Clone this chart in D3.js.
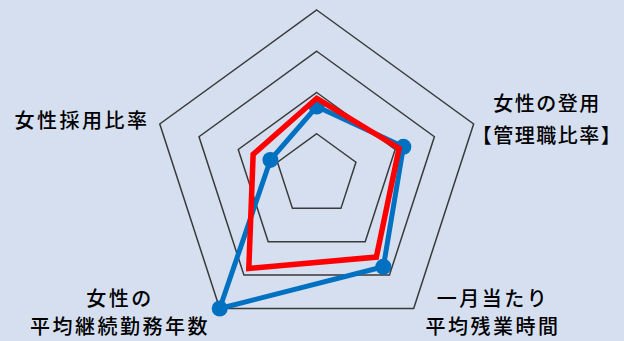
<!DOCTYPE html>
<html>
<head>
<meta charset="utf-8">
<script src="https://cdn.jsdelivr.net/npm/d3@7"></script>
<style>
  html, body { margin: 0; padding: 0; background: #d5dff0; }
  svg { display: block; }
  .label { font-family: "Noto Sans CJK JP", sans-serif; font-size: 20px; letter-spacing: 2.5px; font-weight: 500; fill: #000; }
  .label.tight { letter-spacing: 1.5px; }
</style>
</head>
<body>
<svg id="chart" width="624" height="341"></svg>
<script>
// axes, clockwise from the top
var categories = [
  [],
  ['女性の登用', '【管理職比率】'],
  ['一月当たり', '平均残業時間'],
  ['女性の', '平均継続勤務年数'],
  ['女性採用比率']
];
var levels = [1, 2, 3, 4];
var blueValues = [1.66, 2.21, 2.75, 4.0, 1.18];
var redValues = [1.86, 2.10, 2.46, 2.80, 1.62];

var W = 624, H = 341;
var cx = 316.7, cy = 175;

var svg = d3.select('#chart');
svg.append('rect').attr('width', W).attr('height', H).attr('fill', '#d5dff0');

var r = d3.scaleLinear().domain([0, 4]).range([0, 165]);
var angle = d3.scaleLinear().domain([0, categories.length]).range([0, 2 * Math.PI]);

var radial = d3.lineRadial()
  .angle(function(d, i) { return angle(i); })
  .radius(function(d) { return r(d); })
  .curve(d3.curveLinearClosed);

var g = svg.append('g').attr('transform', 'translate(' + cx + ',' + cy + ')');

// pentagon grid
g.selectAll('path.grid')
  .data(levels)
  .enter().append('path')
  .attr('class', 'grid')
  .attr('d', function(l) { return radial(categories.map(function() { return l; })); })
  .attr('fill', 'none')
  .attr('stroke', '#3a3a3a')
  .attr('stroke-width', 1.5);

// blue series with markers
g.append('path')
  .attr('d', radial(blueValues))
  .attr('fill', 'none')
  .attr('stroke', '#0070c0')
  .attr('stroke-width', 5)
  .attr('stroke-linejoin', 'round');

g.selectAll('circle.dot')
  .data(blueValues)
  .enter().append('circle')
  .attr('class', 'dot')
  .attr('cx', function(d, i) { return r(d) * Math.sin(angle(i)); })
  .attr('cy', function(d, i) { return -r(d) * Math.cos(angle(i)); })
  .attr('r', 8)
  .attr('fill', '#0070c0');

// red series
g.append('path')
  .attr('d', radial(redValues))
  .attr('fill', 'none')
  .attr('stroke', '#ff0000')
  .attr('stroke-width', 5.5)
  .attr('stroke-linejoin', 'miter');

// axis labels (positions picked by hand to match the picture)
var labelPos = [null, [547, 111, 32], [493, 306, 28], [120, 306, 28], [82, 128, 0]];
categories.forEach(function(lines, i) {
  if (!lines.length) return;
  var p = labelPos[i];
  var t = svg.append('text')
    .attr('class', i === 1 ? 'label tight' : 'label')
    .attr('text-anchor', 'middle')
    .attr('x', p[0]).attr('y', p[1]);
  lines.forEach(function(s, k) {
    t.append('tspan').attr('x', p[0]).attr('dy', k === 0 ? 0 : p[2]).text(s);
  });
});
</script>
</body>
</html>
